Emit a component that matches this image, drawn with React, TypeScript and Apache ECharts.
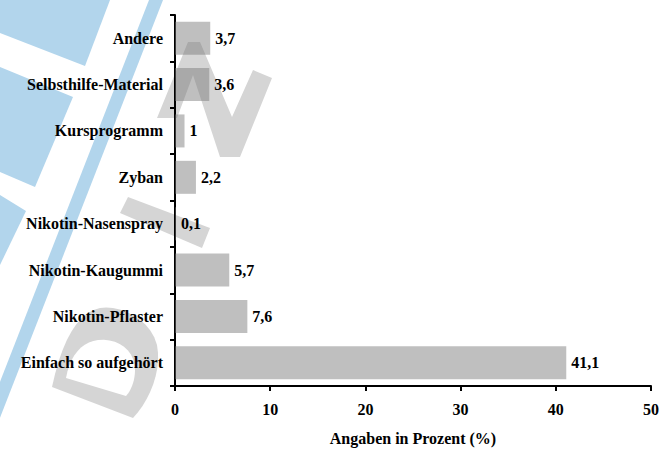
import React, { useEffect, useRef } from "react";
import * as echarts from "echarts";

const categories = [
  "Einfach so aufgehört",
  "Nikotin-Pflaster",
  "Nikotin-Kaugummi",
  "Nikotin-Nasenspray",
  "Zyban",
  "Kursprogramm",
  "Selbsthilfe-Material",
  "Andere",
];
const values = [41.1, 7.6, 5.7, 0.1, 2.2, 1, 3.6, 3.7];
const axisTitle = "Angaben in Prozent (%)";

const FONT = "Liberation Serif";
const BLUE = "#b2d5ec";
const GREY = "#d5d5d5";

type Pt = number[];
function bez(p0: Pt, p1: Pt, p2: Pt, p3: Pt, n = 10): Pt[] {
  const out: Pt[] = [];
  for (let i = 1; i <= n; i++) {
    const t = i / n;
    const u = 1 - t;
    out.push([
      u * u * u * p0[0] + 3 * u * u * t * p1[0] + 3 * u * t * t * p2[0] + t * t * t * p3[0],
      u * u * u * p0[1] + 3 * u * u * t * p1[1] + 3 * u * t * t * p2[1] + t * t * t * p3[1],
    ]);
  }
  return out;
}
const dOuter: Pt[] = [
  [52, 387],
  [133, 418],
  ...bez([133, 418], [150, 400], [162, 370], [157, 345]),
  ...bez([157, 345], [150, 318], [120, 305], [100, 308]),
  ...bez([100, 308], [78, 312], [62, 340], [52, 387]),
];
const dInner: Pt[] = [
  [66, 378],
  ...bez([66, 378], [70, 355], [82, 342], [98, 340]),
  ...bez([98, 340], [118, 338], [135, 350], [135, 370]),
  ...bez([135, 370], [135, 382], [130, 392], [126, 396]),
];

export default function App() {
  const ref = useRef<HTMLDivElement>(null);
  useEffect(() => {
    if (!ref.current) return;
    const chart = echarts.init(ref.current, null, { renderer: "svg" });
    const poly = (points: number[][], fill: string, z = -10) => ({
      type: "polygon",
      z,
      silent: true,
      shape: { points },
      style: { fill },
    });
    const txt = { fontFamily: FONT, fontWeight: "bold" as const, fontSize: 16, color: "#000" };
    chart.setOption({
      animation: false,
      backgroundColor: "#ffffff",
      textStyle: { fontFamily: FONT },
      graphic: [
        poly([[0, 0], [110, 0], [85, 66], [0, 33]], BLUE),
        poly([[0, 67], [73, 97], [35, 187], [0, 172]], BLUE),
        poly([[0, 195], [26, 211], [0, 265]], BLUE),
        poly([[149, 0], [163, 0], [-13, 451], [-27, 451]], BLUE),
        poly(
          [[157, 118], [188, 42], [200, 42], [232, 117], [253, 70], [272, 78], [240, 157], [220, 157], [193, 75], [177, 118]],
          GREY
        ),
        poly([[120, 213], [128, 197], [210, 228], [202, 248]], GREY),
        poly(dOuter, GREY),
        poly(dInner, "#ffffff", -9),
      ],
      grid: { left: 175, right: 19, top: 15, bottom: 62, containLabel: false },
      xAxis: {
        type: "value",
        min: 0,
        max: 50,
        interval: 10,
        name: axisTitle,
        nameLocation: "middle",
        nameGap: 44,
        nameTextStyle: txt,
        axisLine: { show: true, lineStyle: { color: "#000", width: 2 } },
        axisTick: { show: true, length: 5, lineStyle: { color: "#000", width: 2 } },
        axisLabel: { ...txt, margin: 15 },
        splitLine: { show: false },
      },
      yAxis: {
        type: "category",
        data: categories,
        axisLine: { show: true, lineStyle: { color: "#000", width: 2 } },
        axisTick: { show: true, length: 5, alignWithLabel: false, lineStyle: { color: "#000", width: 2 } },
        axisLabel: { ...txt, margin: 12 },
        splitLine: { show: false },
      },
      series: [
        {
          type: "bar",
          data: values,
          barWidth: 33,
          itemStyle: { color: "rgba(120,120,120,0.47)" },
          label: {
            show: true,
            position: "right",
            distance: 5,
            ...txt,
            formatter: (p: any) => String(p.value).replace(".", ","),
          },
        },
      ],
    });
    return () => chart.dispose();
  }, []);
  return (
    <div
      ref={ref}
      style={{ position: "fixed", left: 0, top: 0, width: 670, height: 451 }}
    />
  );
}
